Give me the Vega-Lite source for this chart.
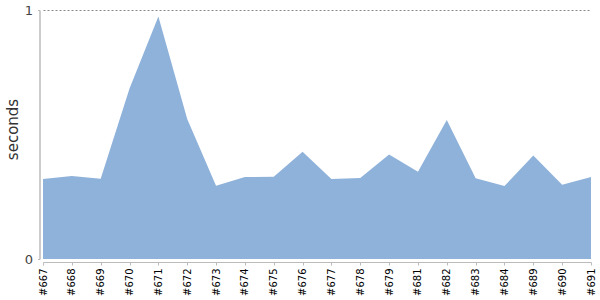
{
  "$schema": "https://vega.github.io/schema/vega-lite/v6.json",
  "width": 548,
  "height": 249,
  "autosize": {"type": "none"},
  "padding": {"left": 43, "top": 10, "right": 9, "bottom": 41},
  "background": "white",
  "config": {"view": {"stroke": null}, "font": "DejaVu Sans"},
  "data": {
    "values": [
      {"build": "#667", "seconds": 0.321},
      {"build": "#668", "seconds": 0.333},
      {"build": "#669", "seconds": 0.322},
      {"build": "#670", "seconds": 0.685},
      {"build": "#671", "seconds": 0.974},
      {"build": "#672", "seconds": 0.562},
      {"build": "#673", "seconds": 0.294},
      {"build": "#674", "seconds": 0.329},
      {"build": "#675", "seconds": 0.330},
      {"build": "#676", "seconds": 0.431},
      {"build": "#677", "seconds": 0.321},
      {"build": "#678", "seconds": 0.325},
      {"build": "#679", "seconds": 0.420},
      {"build": "#681", "seconds": 0.350},
      {"build": "#682", "seconds": 0.558},
      {"build": "#683", "seconds": 0.324},
      {"build": "#684", "seconds": 0.293},
      {"build": "#689", "seconds": 0.416},
      {"build": "#690", "seconds": 0.298},
      {"build": "#691", "seconds": 0.329}
    ]
  },
  "mark": {"type": "area", "color": "#8fb2da", "opacity": 1, "interpolate": "linear"},
  "encoding": {
    "x": {
      "field": "build",
      "type": "ordinal",
      "sort": null,
      "scale": {"type": "point", "padding": 0},
      "axis": {
        "title": null,
        "offset": 3,
        "domainColor": "#bbbbbb",
        "domainWidth": 1,
        "tickColor": "#bbbbbb",
        "tickSize": 3,
        "labelAngle": -90,
        "labelFontSize": 10,
        "labelColor": "#000000",
        "labelPadding": 3,
        "grid": false
      }
    },
    "y": {
      "field": "seconds",
      "type": "quantitative",
      "scale": {"domain": [0, 1], "nice": false, "zero": true},
      "axis": {
        "title": "seconds",
        "titleFontSize": 15,
        "titleFontWeight": "normal",
        "titleColor": "#333333",
        "titleX": -19,
        "titleY": 119,
        "values": [0, 1],
        "format": "d",
        "offset": 3.5,
        "domainColor": "#bbbbbb",
        "domainWidth": 1.5,
        "tickColor": "#bbbbbb",
        "tickSize": 2,
        "labelFontSize": 13,
        "labelColor": "#444444",
        "labelPadding": 5,
        "grid": true,
        "gridDash": [2, 2],
        "gridColor": "#888888",
        "gridOpacity": {"condition": {"test": "datum.value === 1", "value": 1}, "value": 0}
      }
    }
  }
}
